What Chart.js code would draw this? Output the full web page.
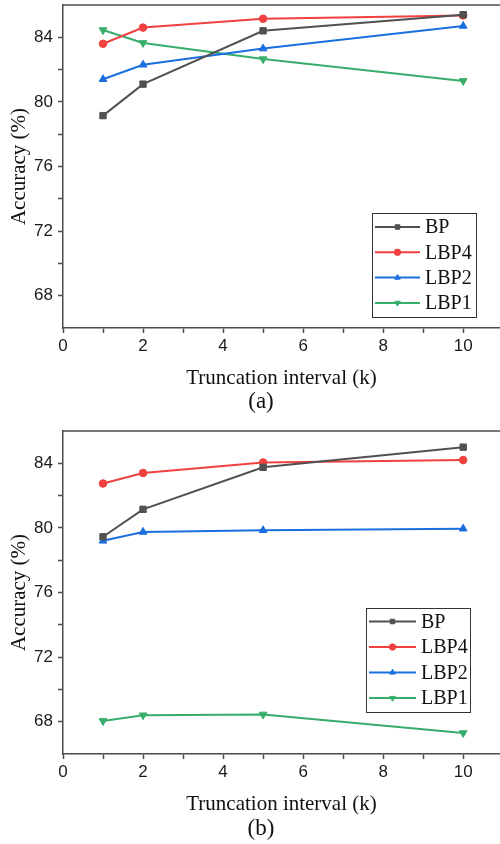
<!DOCTYPE html>
<html><head><meta charset="utf-8">
<script src="https://cdn.jsdelivr.net/npm/chart.js@4.4.1/dist/chart.umd.min.js"></script>
<style>
html,body{margin:0;padding:0;background:#fff;width:500px;height:844px;overflow:hidden}
.wrap{position:absolute;left:0;width:500px;height:418px}
canvas{display:block}
</style></head><body>
<div class="wrap" style="top:0"><canvas id="ca" width="500" height="418"></canvas></div>
<div class="wrap" style="top:426px"><canvas id="cb" width="500" height="418"></canvas></div>
<script>
// ---- data ----
const kValues = [1, 2, 5, 10];
const seriesNames = ['BP', 'LBP4', 'LBP2', 'LBP1'];
const xTickLabels = ['0', '2', '4', '6', '8', '10'];
const yTickLabels = ['68', '72', '76', '80', '84'];
const panelLabels = ['(a)', '(b)'];
const xTitle = 'Truncation interval (k)';
const yTitle = 'Accuracy (%)';

const a_BP   = [79.15, 81.10, 84.40, 85.40];
const a_LBP4 = [83.60, 84.60, 85.15, 85.35];
const a_LBP2 = [81.40, 82.30, 83.30, 84.70];
const a_LBP1 = [84.45, 83.65, 82.65, 81.30];

const b_BP   = [79.45, 81.15, 83.75, 85.00];
const b_LBP4 = [82.75, 83.40, 84.05, 84.20];
const b_LBP2 = [79.20, 79.75, 79.85, 79.95];
const b_LBP1 = [68.05, 68.40, 68.45, 67.30];

// ---- styles ----
const colors = ['#515151', '#F14040', '#1A6FDF', '#37AD6B'];
const pStyles = ['rect', 'circle', 'triangle', 'triangle'];
const pRot = [0, 0, 0, 180];
const pRad = [4.5, 3.8, 4.5, 4.5];
const serif = '"Liberation Serif", "Times New Roman", serif';
const sans = '"Liberation Sans", Arial, sans-serif';

function makeDatasets(vals) {
  return seriesNames.map((name, i) => ({
    label: name,
    data: kValues.map((k, j) => ({ x: k, y: vals[i][j] })),
    borderColor: colors[i],
    backgroundColor: colors[i],
    pointBackgroundColor: colors[i],
    pointBorderColor: colors[i],
    pointStyle: pStyles[i],
    pointRotation: pRot[i],
    pointRadius: pRad[i],
    pointBorderWidth: 1,
    borderWidth: 2,
    tension: 0,
    fill: false
  }));
}

const framePlugin = {
  id: 'frame',
  afterDraw(chart, args, opts) {
    const { ctx, chartArea: ca } = chart;
    ctx.save();
    ctx.strokeStyle = '#4d4d4d';
    ctx.lineWidth = 1.5;
    ctx.beginPath();
    ctx.moveTo(ca.left, ca.top);
    ctx.lineTo(ca.right, ca.top);
    ctx.stroke();
    const lg = opts.legend;
    ctx.lineWidth = 1;
    ctx.strokeStyle = '#333';
    ctx.strokeRect(lg.x + 0.5, lg.y + 0.5, lg.w, lg.h);
    chart.data.datasets.forEach((ds, i) => {
      const cy = lg.y + lg.first + i * lg.step;
      ctx.strokeStyle = ds.borderColor;
      ctx.lineWidth = 2;
      ctx.beginPath();
      ctx.moveTo(lg.x + lg.l0, cy);
      ctx.lineTo(lg.x + lg.l1, cy);
      ctx.stroke();
      ctx.fillStyle = ds.pointBackgroundColor;
      ctx.lineWidth = 1;
      Chart.helpers.drawPoint(ctx, { pointStyle: ds.pointStyle, rotation: ds.pointRotation || 0, radius: 3.2, borderWidth: 1 }, lg.x + (lg.l0 + lg.l1) / 2, cy);
      ctx.fillStyle = '#111';
      ctx.font = '20px ' + serif;
      ctx.textBaseline = 'middle';
      ctx.textAlign = 'left';
      ctx.fillText(ds.label, lg.x + lg.tx, cy + 1);
    });
    ctx.font = '23px ' + serif;
    ctx.textAlign = 'center';
    ctx.textBaseline = 'middle';
    ctx.fillStyle = '#111';
    ctx.fillText(opts.panel, opts.px, opts.py);
    ctx.restore();
  }
};

function makeChart(id, vals, panel, legendBox, py) {
  return new Chart(document.getElementById(id), {
    type: 'line',
    data: { datasets: makeDatasets(vals) },
    plugins: [framePlugin],
    options: {
      responsive: false,
      animation: false,
      devicePixelRatio: 1,
      layout: { autoPadding: false, padding: { top: 5, left: 0, right: 0, bottom: 0 } },
      plugins: {
        legend: { display: false },
        tooltip: { enabled: false },
        frame: { legend: legendBox, panel: panel, px: 261, py: py }
      },
      scales: {
        x: {
          type: 'linear', min: 0, max: 10.92,
          afterBuildTicks: s => { s.ticks = s.ticks.filter(t => Number.isInteger(t.value)); },
          afterFit: s => { s.height = 90; s.paddingLeft = 0; s.paddingRight = 0; },
          ticks: {
            stepSize: 1, includeBounds: false, autoSkip: false, maxRotation: 0, minRotation: 0,
            padding: 3, color: '#1a1a1a', font: { family: sans, size: 17 },
            callback: v => xTickLabels.includes(String(v)) ? String(v) : ''
          },
          grid: { drawOnChartArea: false, drawTicks: true, tickLength: 5, tickColor: '#4d4d4d', tickWidth: 1.5 },
          border: { display: true, color: '#4d4d4d', width: 1.5 },
          title: { display: true, text: xTitle, color: '#111', font: { family: serif, size: 21 }, padding: { top: 0, bottom: 27 } }
        },
        y: {
          type: 'linear', min: 66, max: 86,
          afterFit: s => { s.width = 63; s.paddingTop = 0; s.paddingBottom = 0; },
          ticks: {
            stepSize: 2, includeBounds: false, autoSkip: false,
            padding: 5, color: '#1a1a1a', font: { family: sans, size: 17 },
            callback: v => (v <= 66 || v >= 86) ? null : (yTickLabels.includes(String(v)) ? String(v) : '')
          },
          grid: { drawOnChartArea: false, drawTicks: true, tickLength: 5, tickColor: '#4d4d4d', tickWidth: 1.5 },
          border: { display: true, color: '#4d4d4d', width: 1.5 },
          title: { display: true, text: yTitle, color: '#111', font: { family: serif, size: 21 }, padding: { top: 7, bottom: 0 } }
        }
      }
    }
  });
}

makeChart('ca', [a_BP, a_LBP4, a_LBP2, a_LBP1], panelLabels[0],
  { x: 372, y: 213, w: 104, h: 104, first: 14, step: 25.3, l0: 3, l1: 48, tx: 53 }, 402);
makeChart('cb', [b_BP, b_LBP4, b_LBP2, b_LBP1], panelLabels[1],
  { x: 366, y: 182, w: 104, h: 104, first: 13.5, step: 25.5, l0: 3, l1: 50, tx: 55 }, 403);
</script>
</body></html>
